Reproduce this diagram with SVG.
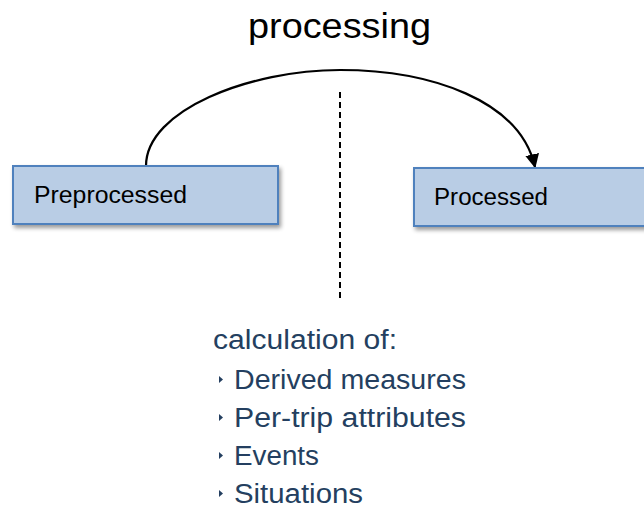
<svg xmlns="http://www.w3.org/2000/svg" width="644" height="509" viewBox="0 0 644 509">
<defs>
<filter id="sh" x="-10%" y="-20%" width="130%" height="160%"><feGaussianBlur in="SourceAlpha" stdDeviation="2"/><feOffset dx="2" dy="3"/><feComponentTransfer><feFuncA type="linear" slope="0.4"/></feComponentTransfer><feMerge><feMergeNode/><feMergeNode in="SourceGraphic"/></feMerge></filter>
<marker id="ah" viewBox="0 0 12 12" refX="11" refY="6" markerWidth="14" markerHeight="14" orient="auto" markerUnits="userSpaceOnUse"><path d="M0,0 L12,6 L0,12 z" fill="#000"/></marker>
<style>
.box{fill:#B9CDE5;stroke:#4F81BD;stroke-width:2}
.lbl{font-family:"Liberation Sans",Arial,sans-serif;font-size:23px;fill:#000}
.lst{font-family:"Liberation Sans",Arial,sans-serif;font-size:27px;fill:#243F60}
</style>
</defs>
<rect width="644" height="509" fill="#fff"/>
<text x="248" y="38" textLength="183" lengthAdjust="spacingAndGlyphs" style="font-family:'Liberation Sans',Arial,sans-serif;font-size:35px;fill:#000">processing</text>
<g id="connectors">
<path d="M146,166 C146,110 250,70 340,70 C430,70 520,100 535,167" fill="none" stroke="#000" stroke-width="2.2" marker-end="url(#ah)"/>
<line x1="340" y1="92" x2="340" y2="302" stroke="#000" stroke-width="2" stroke-dasharray="6,4"/>
</g>
<g id="preprocessed"><rect class="box" x="13" y="166" width="265" height="58" filter="url(#sh)"/><text class="lbl" x="34" y="203" textLength="153" lengthAdjust="spacingAndGlyphs">Preprocessed</text></g>
<g id="processed"><rect class="box" x="414" y="168" width="240" height="58" filter="url(#sh)"/><text class="lbl" x="434" y="205" textLength="114" lengthAdjust="spacingAndGlyphs">Processed</text></g>
<g id="list">
<text class="lst" x="213" y="349" textLength="184" lengthAdjust="spacingAndGlyphs">calculation of:</text>
<path d="M219,383 l4,-3.5 l-4,-3.5 z" fill="#243F60"/>
<text class="lst" x="234" y="389" textLength="232" lengthAdjust="spacingAndGlyphs">Derived measures</text>
<path d="M219,421 l4,-3.5 l-4,-3.5 z" fill="#243F60"/>
<text class="lst" x="234" y="427" textLength="232" lengthAdjust="spacingAndGlyphs">Per-trip attributes</text>
<path d="M219,459 l4,-3.5 l-4,-3.5 z" fill="#243F60"/>
<text class="lst" x="234" y="465" textLength="85" lengthAdjust="spacingAndGlyphs">Events</text>
<path d="M219,497 l4,-3.5 l-4,-3.5 z" fill="#243F60"/>
<text class="lst" x="234" y="503" textLength="129" lengthAdjust="spacingAndGlyphs">Situations</text>
</g>
</svg>
